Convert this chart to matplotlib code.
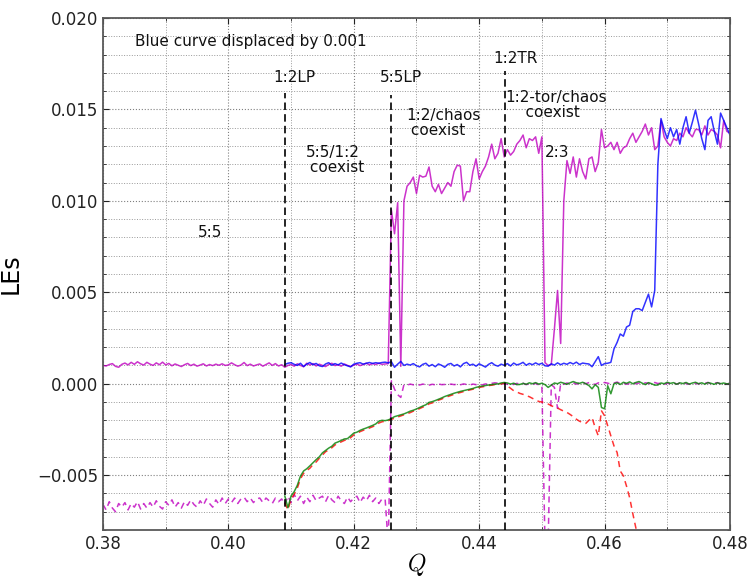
import numpy as np
import matplotlib
matplotlib.use('Agg')
import matplotlib.pyplot as plt
from matplotlib.ticker import MultipleLocator, FuncFormatter

plt.rcParams['font.family'] = ['DejaVu Sans']
plt.rcParams['mathtext.fontset'] = 'cm'

# parameter grid, step 0.0005 from 0.380 to 0.480
q = np.round(np.arange(0.380, 0.48001, 0.0005), 4)
i_lp = 58     # index of Q = 0.409, where the 1:2 branch starts

# Lyapunov exponents, in units of 1e-3
# largest LE of the 5:5 / chaos branch (solid magenta), whole range
le_m1 = [
    1.00, 0.97, 1.05, 1.10, 0.95, 0.90, 1.06, 1.13, 1.03, 1.17,
    1.06, 1.20, 1.09, 1.02, 1.17, 1.07, 1.00, 1.14, 1.04, 1.18,
    1.03, 1.11, 0.98, 1.08, 1.01, 0.94, 1.04, 1.11, 0.99, 1.07,
    0.96, 1.02, 1.09, 0.97, 1.05, 0.99, 1.07, 1.01, 1.09, 1.00,
    1.03, 1.14, 1.04, 0.96, 1.02, 1.16, 0.99, 1.07, 0.97, 1.03,
    1.08, 0.96, 1.05, 1.14, 1.00, 1.10, 0.97, 1.04, 0.90, 1.00,
    1.05, 0.96, 1.09, 1.00, 0.93, 1.12, 1.02, 1.10, 0.97, 1.07,
    1.00, 0.94, 1.05, 1.12, 0.99, 1.04, 0.96, 1.08, 1.00, 0.94,
    1.02, 1.08, 0.99, 1.05, 1.12, 1.03, 1.10, 1.05, 1.12, 1.06,
    1.08, 1.10, 9.50, 8.20, 9.90, 0.95, 10.0, 10.8, 11.0, 11.3,
    10.4, 11.4, 11.3, 11.35, 11.85, 10.8, 10.5, 10.9, 10.4, 10.7,
    11.0, 10.8, 11.6, 11.95, 11.9, 10.0, 10.5, 10.5, 11.6, 12.3,
    11.2, 11.6, 11.9, 12.4, 13.1, 12.3, 12.6, 13.4, 12.4, 12.8,
    12.5, 12.7, 13.1, 13.3, 13.6, 12.9, 13.4, 13.3, 13.5, 12.6,
    13.5, 1.15, 1.00, 1.05, 3.00, 5.10, 2.20, 10.0, 12.2, 11.5,
    12.4, 11.3, 12.3, 11.6, 11.2, 12.3, 12.4, 11.6, 12.1, 13.9,
    12.9, 13.0, 13.2, 12.8, 13.2, 12.6, 12.9, 13.0, 13.4, 13.7,
    13.2, 13.5, 13.8, 14.2, 13.6, 14.0, 12.8, 13.0, 14.4, 13.5,
    13.2, 13.0, 13.4, 13.3, 13.7, 13.5, 14.0, 13.7, 13.5, 13.9,
    13.9, 13.6, 14.1, 13.6, 13.9, 13.8, 13.6, 12.9, 14.4, 13.8,
    13.7,
]

# second LE of the same branch (dashed magenta)
le_m2 = [
    -6.6, -6.9, -6.45, -6.8, -7.0, -6.55, -6.75, -6.5, -6.9, -6.55,
    -6.75, -6.45, -6.85, -6.55, -6.8, -6.5, -6.75, -6.4, -6.7, -6.85,
    -6.45, -6.65, -6.35, -6.75, -6.5, -6.8, -6.45, -6.65, -6.35, -6.6,
    -6.75, -6.4, -6.65, -6.3, -6.55, -6.75, -6.35, -6.6, -6.25, -6.55,
    -6.3, -6.5, -6.25, -6.55, -6.3, -6.2, -6.45, -6.25, -6.5, -6.3,
    -6.25, -6.5, -6.25, -6.4, -6.55, -6.25, -6.45, -6.3, -6.6, -6.15,
    -6.5, -6.05, -6.4, -6.15, -6.55, -6.2, -6.45, -6.1, -6.4, -6.25,
    -6.15, -6.45, -6.1, -6.35, -6.5, -6.15, -6.4, -6.55, -6.2, -6.45,
    -6.25, -6.15, -6.5, -6.2, -6.4, -6.1, -6.45, -6.25, -6.55, -6.3,
    -6.3, -8.8, 0.16, -0.3, -0.6, -0.75, -0.05, -0.08, -0.02, -0.06,
    -0.03, -0.07, -0.02, -0.05, -0.08, -0.03, -0.06, -0.01, -0.05, -0.04,
    -0.07, -0.02, -0.05, -0.03, -0.06, -0.01, -0.04, -0.07, -0.02, -0.05,
    -0.03, -0.06, -0.01, -0.04, 0.02, 0.05, 0.03, -0.02, 0.01, -0.03,
    0.00, -0.04, 0.02, -0.02, 0.03, -0.05, 0.00, -0.03, 0.02, -0.06,
    -0.1, -8.8, -8.8, -0.05, -0.2, -1.35, 0.02, -0.03, 0.04, 0.00,
    0.05, -0.02, 0.03, 0.08, 0.00, 0.06, 0.02, -0.04, 0.05, 0.01,
    0.07, 0.03, -0.02, 0.04, 0.09, 0.01, 0.05, -0.03, 0.02, 0.06,
    0.00, 0.04, -0.03, 0.05, 0.02, -0.02, 0.07, 0.01, 0.04, -0.04,
    0.03, 0.00, 0.06, -0.02, 0.04, 0.08, 0.01, -0.03, 0.05, 0.02,
    -0.01, 0.05, 0.02, 0.07, -0.02, 0.03, 0.06, 0.00, 0.04, -0.01,
    0.02,
]

# 1:2 branch from Q = 0.409: largest LE (blue, shifted up by 0.001)
le_blue = [
    1.05, 1.12, 1.15, 1.06, 1.00, 1.12, 0.94, 1.07, 1.16, 1.04,
    1.11, 0.98, 0.94, 1.08, 1.15, 1.01, 1.10, 1.03, 1.13, 1.04,
    0.98, 0.92, 1.07, 1.12, 1.15, 1.07, 1.12, 1.16, 1.11, 1.15,
    1.12, 1.16, 1.18, 1.14, 1.20, 0.90, 1.07, 1.22, 1.00, 1.07,
    1.02, 1.10, 0.98, 0.92, 1.06, 1.12, 0.96, 1.05, 0.93, 1.08,
    1.01, 0.90, 1.06, 1.11, 0.97, 1.05, 0.92, 1.10, 1.17, 1.01,
    1.07, 0.96, 1.09, 1.00, 0.91, 1.06, 1.15, 1.02, 0.96, 1.07,
    1.01, 1.10, 0.97, 1.13, 1.03, 1.08, 1.17, 1.01, 1.11, 1.04,
    1.14, 1.05, 1.12, 0.98, 0.96, 1.09, 1.02, 1.14, 1.04, 1.12,
    1.06, 1.16, 1.08, 1.18, 1.05, 1.13, 1.10, 1.08, 0.93, 1.20,
    1.48, 1.00, 1.10, 1.12, 1.17, 1.90, 2.26, 2.72, 2.60, 3.10,
    3.20, 3.95, 4.10, 4.10, 4.00, 4.45, 4.90, 4.20, 5.10, 12.0,
    14.5, 13.9, 13.4, 14.0, 13.5, 13.9, 13.1, 14.0, 14.6, 13.7,
    14.3, 14.96, 14.2, 13.4, 12.8, 14.4, 14.6, 13.8, 13.1, 14.8,
    14.4, 14.0, 13.6,
]

# second LE of the 1:2 branch (solid green)
le_green = [
    -6.14, -6.78, -6.14, -5.90, -5.55, -5.05, -4.77, -4.65, -4.49, -4.32,
    -4.15, -4.00, -3.78, -3.65, -3.52, -3.42, -3.25, -3.18, -3.10, -3.02,
    -3.00, -2.85, -2.70, -2.65, -2.55, -2.48, -2.42, -2.35, -2.28, -2.20,
    -2.05, -2.00, -2.02, -1.98, -1.90, -1.80, -1.75, -1.70, -1.65, -1.58,
    -1.50, -1.45, -1.38, -1.30, -1.22, -1.15, -1.02, -0.98, -0.92, -0.85,
    -0.78, -0.70, -0.64, -0.58, -0.52, -0.47, -0.42, -0.38, -0.34, -0.30,
    -0.26, -0.20, -0.16, -0.13, -0.10, -0.07, -0.05, -0.02, -0.01, 0.04,
    0.07, 0.04, -0.02, 0.03, -0.05, -0.04, 0.02, -0.03, 0.05, 0.00,
    0.06, -0.02, 0.03, -0.05, -0.20, -0.08, 0.04, 0.00, 0.08, 0.03,
    -0.03, 0.05, 0.12, 0.05, 0.02, 0.08, 0.00, -0.10, -0.28, -0.05,
    -0.20, -1.30, -1.37, -0.11, -0.55, 0.00, 0.05, -0.04, 0.08, 0.02,
    0.10, 0.00, 0.07, 0.12, 0.03, -0.05, 0.06, 0.00, -0.08, -0.07,
    0.04, 0.00, 0.08, 0.02, 0.06, -0.03, 0.05, 0.01, 0.07, -0.02,
    0.04, 0.08, 0.00, 0.05, -0.02, 0.06, 0.02, -0.03, 0.05, 0.00,
    0.04, -0.01, 0.02,
]

# third LE of the 1:2 branch (dashed red), Q = 0.409 to 0.4655
le_red = [
    -6.50, -6.90, -6.30, -6.05, -5.70, -5.20, -4.90, -4.75, -4.62, -4.42,
    -4.28, -4.08, -3.90, -3.72, -3.62, -3.50, -3.35, -3.25, -3.18, -3.10,
    -3.05, -2.95, -2.80, -2.72, -2.62, -2.55, -2.50, -2.42, -2.35, -2.28,
    -2.15, -2.08, -2.06, -2.02, -1.95, -1.88, -1.82, -1.76, -1.70, -1.64,
    -1.58, -1.50, -1.44, -1.36, -1.28, -1.22, -1.10, -1.05, -0.98, -0.90,
    -0.84, -0.76, -0.70, -0.64, -0.58, -0.52, -0.48, -0.43, -0.38, -0.34,
    -0.30, -0.25, -0.20, -0.17, -0.14, -0.10, -0.08, -0.05, -0.03, 0.00,
    0.02, -0.12, -0.25, -0.38, -0.45, -0.53, -0.58, -0.65, -0.71, -0.80,
    -0.88, -0.97, -1.00, -1.05, -1.11, -1.20, -1.28, -1.33, -1.42, -1.50,
    -1.57, -1.68, -1.80, -1.94, -2.05, -2.12, -2.17, -2.00, -1.85, -2.40,
    -2.85, -1.48, -1.75, -2.30, -2.85, -3.40, -3.76, -4.77, -5.04, -5.60,
    -6.23, -7.10, -7.90, -8.80,
]

# bifurcation points (dashed verticals) and their labels
bif_q = [0.409, 0.4259, 0.4441]
bif_top = [0.0159, 0.0158, 0.0171]

labels = [
    ('Blue curve displaced by 0.001', 0.3851, 0.01872),
    ('1:2LP', 0.4072, 0.01674),
    ('5:5LP', 0.4242, 0.01674),
    ('1:2TR', 0.4423, 0.01777),
    ('5:5', 0.3952, 0.00825),
    ('5:5/1:2\n coexist', 0.4123, 0.01222),
    ('1:2/chaos\n coexist', 0.4283, 0.01423),
    ('1:2-tor/chaos\n    coexist', 0.4442, 0.01525),
    ('2:3', 0.4505, 0.01263),
]

scale = 1e-3
q_br = q[i_lp:]


def tick_fmt(ndig):
    # fixed decimals, with a proper minus sign
    return FuncFormatter(lambda v, pos: ('%.*f' % (ndig, v)).replace('-', '\u2212'))


fig = plt.figure(figsize=(7.5, 5.78), dpi=100)
ax = fig.add_axes([0.1373, 0.0830, 0.8360, 0.8859])

ax.plot(q, np.array(le_m1) * scale, color='m', lw=1.1, alpha=0.8)
ax.plot(q, np.array(le_m2) * scale, color='m', lw=1.1, alpha=0.8,
        linestyle=(0, (4, 3)))
ax.plot(q_br, np.array(le_blue) * scale, color='b', lw=1.1, alpha=0.8)
ax.plot(q_br[:len(le_red)], np.array(le_red) * scale, color='r', lw=1.1,
        alpha=0.8, linestyle=(0, (4, 3)))
ax.plot(q_br, np.array(le_green) * scale, color='g', lw=1.1, alpha=0.8)

for xq, top in zip(bif_q, bif_top):
    ax.plot([xq, xq], [-0.008, top], color='k', lw=1.2,
            linestyle=(0, (4.5, 2.5)), zorder=5)

for txt, xq, yv in labels:
    ax.text(xq, yv, txt, fontsize=11, ha='left', va='center',
            linespacing=1.0, color='#111111')

ax.set_xlim(0.38, 0.48)
ax.set_ylim(-0.008, 0.020)
ax.xaxis.set_major_locator(MultipleLocator(0.02))
ax.xaxis.set_minor_locator(MultipleLocator(0.01))
ax.yaxis.set_major_locator(MultipleLocator(0.005))
ax.yaxis.set_minor_locator(MultipleLocator(0.001))
ax.xaxis.set_major_formatter(tick_fmt(2))
ax.yaxis.set_major_formatter(tick_fmt(3))

ax.grid(which='major', color='0.5', linestyle=':', lw=0.8)
ax.grid(which='minor', color='0.6', linestyle=':', lw=0.7)
ax.set_axisbelow(True)

ax.tick_params(which='both', direction='in', top=True, right=True,
               labelsize=12, colors='#222222')
ax.tick_params(which='major', length=4)
ax.tick_params(which='minor', length=2)
for sp in ax.spines.values():
    sp.set_color('0.35')
    sp.set_linewidth(1.3)

ax.set_ylabel('LEs', fontsize=17, labelpad=10)
ax.set_xlabel(r'$Q$', fontsize=17)
ax.xaxis.set_label_coords(0.5, -0.04)

fig.savefig('out.png', dpi=100)
